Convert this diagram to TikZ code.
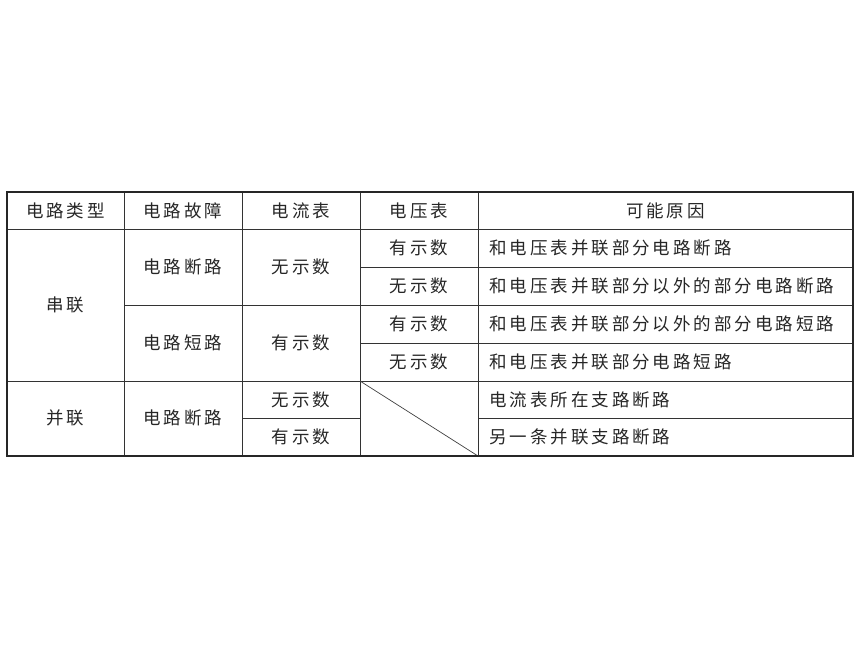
\documentclass[tikz,border=0pt]{standalone}
\usepackage{fontspec}
\newfontfamily\cjk[LetterSpace=17]{Noto Sans CJK SC}
\begin{document}
\begin{tikzpicture}[x=1pt,y=-1pt,
  cell/.style={font=\cjk\fontsize{17.5}{19}\selectfont, text=black!85, inner sep=0pt, anchor=center},
  lcell/.style={font=\cjk\fontsize{17.5}{19}\selectfont, text=black!85, inner sep=0pt, anchor=west},
  grid/.style={line width=0.8pt, draw=black!80},
  frame/.style={line width=1.3pt, draw=black!85}]
\useasboundingbox (0,0) rectangle (860,645);
% horizontal lines
\draw[grid] (7,229) -- (853,229);
\draw[grid] (360,267) -- (853,267);
\draw[grid] (124,305) -- (853,305);
\draw[grid] (360,343) -- (853,343);
\draw[grid] (7,381) -- (853,381);
\draw[grid] (242,418) -- (360,418);
\draw[grid] (478,418) -- (853,418);
% vertical lines
\foreach \x in {124,242,360,478} \draw[grid] (\x,192) -- (\x,456);
% diagonal
\coordinate (d1) at (360,381);
\coordinate (d2) at (478,456);
\draw[line width=0.7pt, draw=black!75] (d1) -- (d2);
% frame
\draw[frame] (7,192) rectangle (853,456);
% header
\node[cell] (h1) at (65.5,210.5) {电路类型};
\node[cell] (h2) at (183,210.5) {电路故障};
\node[cell] (h3) at (301,210.5) {电流表};
\node[cell] (h4) at (419,210.5) {电压表};
\node[cell] (h5) at (665.5,210.5) {可能原因};
% col1
\node[cell] (c1a) at (65.5,305) {串联};
\node[cell] (c1b) at (65.5,418) {并联};
% col2
\node[cell] (c2a) at (183,267) {电路断路};
\node[cell] (c2b) at (183,343) {电路短路};
\node[cell] (c2c) at (183,418) {电路断路};
% col3
\node[cell] (c3a) at (301,267) {无示数};
\node[cell] (c3b) at (301,343) {有示数};
\node[cell] (c3c) at (301,399.5) {无示数};
\node[cell] (c3d) at (301,437) {有示数};
% col4
\node[cell] (c4a) at (419,248) {有示数};
\node[cell] (c4b) at (419,286) {无示数};
\node[cell] (c4c) at (419,324) {有示数};
\node[cell] (c4d) at (419,362) {无示数};
% col5
\node[lcell] (c5a) at (489,248) {和电压表并联部分电路断路};
\node[lcell] (c5b) at (489,286) {和电压表并联部分以外的部分电路断路};
\node[lcell] (c5c) at (489,324) {和电压表并联部分以外的部分电路短路};
\node[lcell] (c5d) at (489,362) {和电压表并联部分电路短路};
\node[lcell] (c5e) at (489,399.5) {电流表所在支路断路};
\node[lcell] (c5f) at (489,437) {另一条并联支路断路};
\end{tikzpicture}
\end{document}
